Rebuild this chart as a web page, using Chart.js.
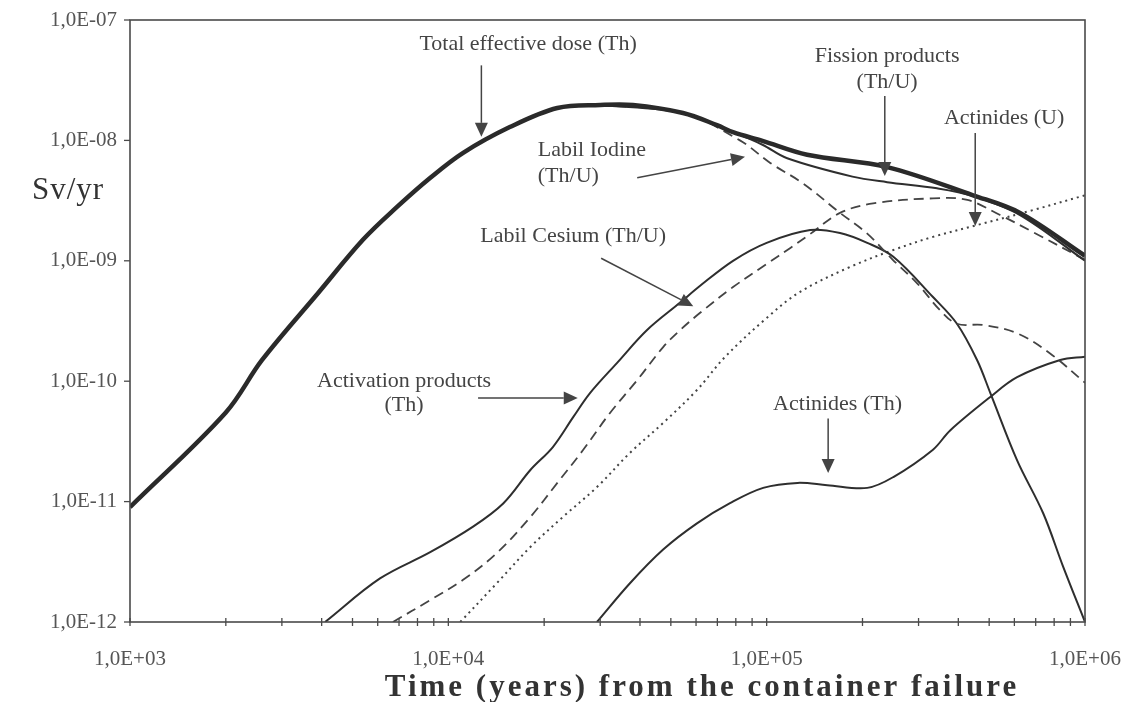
<!DOCTYPE html>
<html lang="en">
  <head>
    <meta charset="UTF-8" />
    <title>Effective dose vs time</title>
    <script src="https://cdn.jsdelivr.net/npm/chart.js"></script>
    <style>
      body {
        margin: 0;
        background-color: #ffffff;
      }
      #wrap {
        width: 1130px;
        height: 702px;
      }
    </style>
  </head>
  <body>
    <div id="wrap">
      <canvas id="dose-chart" width="1130" height="702"></canvas>
    </div>

    <script>
      // axis ticks
      const xTicks = [1e3, 2e3, 3e3, 4e3, 5e3, 6e3, 7e3, 8e3, 9e3,
        1e4, 2e4, 3e4, 4e4, 5e4, 6e4, 7e4, 8e4, 9e4,
        1e5, 2e5, 3e5, 4e5, 5e5, 6e5, 7e5, 8e5, 9e5, 1e6];
      const xTickLabels = { 1e3: "1,0E+03", 1e4: "1,0E+04", 1e5: "1,0E+05", 1e6: "1,0E+06" };
      const yTicks = [1e-12, 1e-11, 1e-10, 1e-9, 1e-8, 1e-7];
      const yTickLabels = ["1,0E-12", "1,0E-11", "1,0E-10", "1,0E-09", "1,0E-08", "1,0E-07"];

      // Total effective dose (Th)
      const totalYears = [1000, 2000, 2600, 3900, 5400, 6900, 8760, 11100, 15600, 22000, 30000,
        38000, 54600, 69800, 78400, 97000, 134000, 239000, 445000, 625000, 1000000];
      const totalDose = [9e-12, 5.5e-11, 1.5e-10, 5.4e-10, 1.5e-9, 2.8e-9, 4.87e-9, 7.85e-9, 1.29e-8, 1.86e-8, 1.97e-8,
        1.97e-8, 1.69e-8, 1.34e-8, 1.17e-8, 9.9e-9, 7.6e-9, 6.0e-9, 3.5e-9, 2.5e-9, 1.1e-9];

      // Fission products (Th/U)
      const fissionYears = [30000, 54600, 78400, 97000, 116000, 186000, 239000, 343000, 445000, 625000, 1000000];
      const fissionDose = [1.97e-8, 1.69e-8, 1.17e-8, 9.2e-9, 7.1e-9, 5.0e-9, 4.5e-9, 4.0e-9, 3.45e-9, 2.4e-9, 1.0e-9];

      // Labil Iodine (Th/U)
      const iodineYears = [30000, 54600, 82400, 102600, 130000, 170000, 206000, 249000, 297000, 350000,
        396000, 479000, 612000, 777000, 1000000];
      const iodineDose = [1.97e-8, 1.69e-8, 1.0e-8, 6.5e-9, 4.4e-9, 2.5e-9, 1.7e-9, 1.02e-9, 6.5e-10, 3.9e-10,
        3.0e-10, 2.93e-10, 2.5e-10, 1.7e-10, 9.7e-11];

      // Labil Cesium (Th/U) / Activation products (Th)
      const cesiumYears = [4100, 6100, 8770, 11960, 14900, 18100, 21300, 24700, 27900, 33900, 42100,
        53500, 61800, 78400, 100000, 137000, 170000, 207000, 250000, 333000, 396000, 458000,
        504000, 612000, 739000, 853000, 1000000];
      const cesiumDose = [1e-12, 2.3e-12, 3.8e-12, 6.2e-12, 9.7e-12, 1.83e-11, 2.84e-11, 5.05e-11, 8.0e-11, 1.42e-10, 2.66e-10,
        4.5e-10, 6.2e-10, 1.0e-9, 1.41e-9, 1.8e-9, 1.7e-9, 1.41e-9, 1.08e-9, 5.0e-10, 3.0e-10, 1.5e-10,
        8.0e-11, 2.2e-11, 8.0e-12, 2.9e-12, 1e-12];

      // Actinides (U), dashed
      const actUYears = [6700, 8770, 11100, 14200, 18100, 22000, 26500, 32200, 39200, 47300, 53500, 61800,
        78400, 100000, 118700, 137000, 170000, 216000, 333000, 427000, 541000, 687000, 1000000];
      const actUDose = [1e-12, 1.52e-12, 2.23e-12, 3.74e-12, 7.45e-12, 1.43e-11, 2.68e-11, 5.45e-11, 1.02e-10, 1.92e-10, 2.66e-10, 3.7e-10,
        6.05e-10, 9.4e-10, 1.28e-9, 1.67e-9, 2.5e-9, 3.0e-9, 3.3e-9, 3.2e-9, 2.4e-9, 1.73e-9, 1.02e-9];

      // dotted curve
      const dottedYears = [10900, 14200, 18100, 22900, 29300, 37200, 47300, 60400, 74000, 100000, 127000,
        183000, 250000, 333000, 458000, 687000, 1000000];
      const dottedDose = [1e-12, 2.1e-12, 4.2e-12, 7.45e-12, 1.32e-11, 2.54e-11, 4.5e-11, 8.45e-11, 1.59e-10, 3.35e-10, 5.5e-10,
        8.9e-10, 1.23e-9, 1.58e-9, 1.98e-9, 2.64e-9, 3.5e-9];

      // Actinides (Th)
      const actThYears = [29300, 37200, 47300, 60400, 76700, 97500, 125000, 155000, 207000, 250000,
        333000, 377000, 504000, 612000, 836000, 1000000];
      const actThDose = [1e-12, 2.1e-12, 4.0e-12, 6.6e-12, 9.7e-12, 1.3e-11, 1.43e-11, 1.37e-11, 1.3e-11, 1.6e-11,
        2.7e-11, 3.9e-11, 7.4e-11, 1.08e-10, 1.5e-10, 1.6e-10];

      // annotations: text lines at (t, v), arrow from (t0, v0) to (t1, v1), in data units
      const notes = [
        { lines: ["Total effective dose (Th)"], t: 17800, v: [6.3e-8], align: "center", arrow: [12700, 4.2e-8, 12700, 1.07e-8] },
        { lines: ["Labil Iodine", "(Th/U)"], t: 19100, v: [8.3e-9, 5.06e-9], align: "left", arrow: [39200, 4.9e-9, 85500, 7.3e-9] },
        { lines: ["Labil Cesium (Th/U)"], t: 12600, v: [1.6e-9], align: "left", arrow: [30200, 1.05e-9, 58800, 4.2e-10] },
        { lines: ["Activation products", "(Th)"], t: 7260, v: [1.0e-10, 6.3e-11], align: "center", arrow: [12400, 7.25e-11, 25500, 7.25e-11] },
        { lines: ["Fission products", "(Th/U)"], t: 239000, v: [5.0e-8, 3.05e-8], align: "center", arrow: [235000, 2.34e-8, 235000, 5.06e-9] },
        { lines: ["Actinides (U)"], t: 557000, v: [1.53e-8], align: "center", arrow: [452000, 1.15e-8, 452000, 1.95e-9] },
        { lines: ["Actinides (Th)"], t: 167000, v: [6.5e-11], align: "center", arrow: [156000, 4.9e-11, 156000, 1.73e-11] },
      ];

      function points(xs, ys) {
        return xs.map((x, i) => ({ x: x, y: ys[i] }));
      }

      function drawArrow(ctx, x0, y0, x1, y1) {
        const ang = Math.atan2(y1 - y0, x1 - x0);
        const len = 14;
        const half = 6.5;
        const bx = x1 - len * Math.cos(ang);
        const by = y1 - len * Math.sin(ang);
        ctx.beginPath();
        ctx.moveTo(x0, y0);
        ctx.lineTo(bx, by);
        ctx.stroke();
        ctx.beginPath();
        ctx.moveTo(x1, y1);
        ctx.lineTo(bx + half * Math.sin(ang), by - half * Math.cos(ang));
        ctx.lineTo(bx - half * Math.sin(ang), by + half * Math.cos(ang));
        ctx.closePath();
        ctx.fill();
      }

      const decorations = {
        id: "decorations",
        afterDraw(chart) {
          const ctx = chart.ctx;
          const area = chart.chartArea;
          const xs = chart.scales.x;
          const ys = chart.scales.y;
          ctx.save();

          // frame
          ctx.strokeStyle = "#4a4a4a";
          ctx.lineWidth = 1.6;
          ctx.strokeRect(area.left, area.top, area.right - area.left, area.bottom - area.top);

          // x ticks crossing the axis
          ctx.lineWidth = 1.3;
          xTicks.forEach((t) => {
            const px = xs.getPixelForValue(t);
            ctx.beginPath();
            ctx.moveTo(px, area.bottom - 4);
            ctx.lineTo(px, area.bottom + 4);
            ctx.stroke();
          });
          // y ticks outside
          yTicks.forEach((v) => {
            const py = ys.getPixelForValue(v);
            ctx.beginPath();
            ctx.moveTo(area.left - 6, py);
            ctx.lineTo(area.left, py);
            ctx.stroke();
          });

          // annotations
          ctx.fillStyle = "#444";
          ctx.strokeStyle = "#444";
          ctx.lineWidth = 1.5;
          ctx.font = "22px 'Liberation Serif'";
          ctx.textBaseline = "middle";
          notes.forEach((n) => {
            ctx.textAlign = n.align;
            const px = xs.getPixelForValue(n.t);
            n.lines.forEach((line, i) => {
              ctx.fillText(line, px, ys.getPixelForValue(n.v[i]));
            });
            const a = n.arrow;
            drawArrow(ctx, xs.getPixelForValue(a[0]), ys.getPixelForValue(a[1]),
              xs.getPixelForValue(a[2]), ys.getPixelForValue(a[3]));
          });

          // axis titles
          ctx.fillStyle = "#333";
          ctx.textAlign = "center";
          ctx.letterSpacing = "1px";
          ctx.font = "31px 'Liberation Serif'";
          ctx.fillText("Sv/yr", 68, 191);
          ctx.letterSpacing = "3px";
          ctx.font = "bold 31px 'Liberation Serif'";
          ctx.fillText("Time (years) from the container failure", 702, 688);
          ctx.restore();
        },
      };

      const thin = { borderColor: "#2e2e2e", borderWidth: 2 };

      new Chart(document.getElementById("dose-chart"), {
        type: "line",
        data: {
          datasets: [
            { label: "Total effective dose (Th)", data: points(totalYears, totalDose), borderColor: "#2a2a2a", borderWidth: 4.5 },
            { label: "Fission products (Th/U)", data: points(fissionYears, fissionDose), ...thin },
            { label: "Labil Iodine (Th/U)", data: points(iodineYears, iodineDose), borderColor: "#444", borderWidth: 1.8, borderDash: [10, 6] },
            { label: "Labil Cesium (Th/U)", data: points(cesiumYears, cesiumDose), ...thin },
            { label: "Actinides (U)", data: points(actUYears, actUDose), borderColor: "#444", borderWidth: 1.8, borderDash: [10, 6] },
            { label: "Dotted", data: points(dottedYears, dottedDose), borderColor: "#444", borderWidth: 2, borderDash: [2, 4] },
            { label: "Actinides (Th)", data: points(actThYears, actThDose), ...thin },
          ],
        },
        options: {
          responsive: false,
          animation: false,
          layout: { padding: { top: 20, right: 45, left: 0, bottom: 0 } },
          plugins: {
            legend: { display: false },
            tooltip: { enabled: false },
          },
          elements: {
            point: { radius: 0 },
            line: { tension: 0.35, fill: false },
          },
          scales: {
            x: {
              type: "logarithmic",
              min: 1e3,
              max: 1e6,
              afterBuildTicks: (s) => {
                s.ticks = xTicks.map((v) => ({ value: v }));
              },
              afterFit: (s) => {
                s.height = 80;
                s.paddingLeft = 0;
                s.paddingRight = 0;
              },
              grid: { display: false, drawTicks: false },
              border: { display: false },
              ticks: {
                autoSkip: false,
                maxRotation: 0,
                padding: 25,
                color: "#555",
                font: { family: "Liberation Serif", size: 21 },
                callback: (v) => xTickLabels[v] || "",
              },
            },
            y: {
              type: "logarithmic",
              min: 1e-12,
              max: 1e-7,
              afterBuildTicks: (s) => {
                s.ticks = yTicks.map((v) => ({ value: v }));
              },
              afterFit: (s) => {
                s.width = 130;
                s.paddingTop = 0;
                s.paddingBottom = 0;
              },
              grid: { display: false, drawTicks: false },
              border: { display: false },
              ticks: {
                autoSkip: false,
                padding: 13,
                color: "#555",
                font: { family: "Liberation Serif", size: 21 },
                callback: (v, i) => yTickLabels[i],
              },
            },
          },
        },
        plugins: [decorations],
      });
    </script>
  </body>
</html>
